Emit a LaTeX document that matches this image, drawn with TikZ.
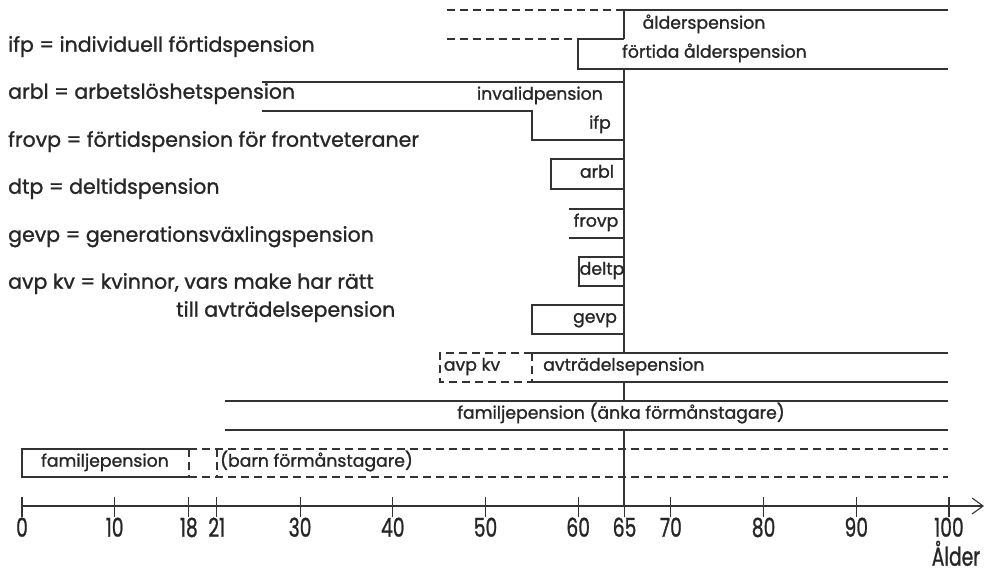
\documentclass[tikz,border=0pt]{standalone}
\usepackage{fontspec}
\usepackage{graphicx}
\setmainfont{Poppins}[FakeBold=1.2]
\usetikzlibrary{arrows.meta}
\begin{document}
\begin{tikzpicture}[x=1pt,y=-1pt,
  ln/.style={line width=1.1pt,draw=black!80},
  dl/.style={ln,dash pattern=on 8pt off 5pt},
  lbl/.style={inner sep=0pt,font=\fontsize{17.3}{20}\selectfont,text=black!85},
  leg/.style={inner sep=0pt,anchor=mid west,font=\fontsize{20.5}{24}\selectfont,text=black!85},
  num/.style={inner sep=0pt,anchor=mid,font=\fontsize{26}{28}\selectfont,text=black!85}]
\useasboundingbox (0,0) rectangle (994,576);

% ---- legend ----
\node[leg] (l1) at (8,49) {ifp = individuell förtidspension};
\node[leg] (l2) at (8,96) {arbl = arbetslöshetspension};
\node[leg] (l3) at (8,144) {frovp = förtidspension för frontveteraner};
\node[leg] (l4) at (8,191) {dtp = deltidspension};
\node[leg] (l5) at (8,239) {gevp = generationsväxlingspension};
\node[leg] (l6) at (8,286) {avp kv = kvinnor, vars make har rätt};
\node[leg] (l7) at (176,314) {till avträdelsepension};

% ---- ålderspension / förtida ----
\draw[dl] (447,10) -- (624,10);
\draw[ln] (624,10) -- (948,10);
\draw[dl] (447,39) -- (578,39);
\draw[ln] (624,39) -- (624,10);
\draw[ln] (624,39) -- (578,39) -- (578,69) -- (948,69);
\node[lbl,anchor=mid] (alder) at (704,26) {ålderspension};
\node[lbl,anchor=mid west] (fortida) at (622,55) {förtida ålderspension};

% ---- 65 line ----
\draw[ln] (624,69) -- (624,353);
\draw[ln] (624,382) -- (624,401);
\draw[ln] (624,430) -- (624,506);

% ---- invalidpension / ifp ----
\draw[ln] (262,82) -- (624,82);
\draw[ln] (262,111) -- (532,111) -- (532,140) -- (624,140);
\node[lbl,anchor=mid east] (inv) at (603,97) {invalidpension};
\node[lbl,anchor=mid] (ifp) at (600,126) {ifp};

% ---- arbl ----
\draw[ln] (624,159) -- (551,159) -- (551,189) -- (624,189);
\node[lbl,anchor=mid] (arbl) at (597,175) {arbl};

% ---- frovp ----
\draw[ln] (569,209) -- (624,209);
\draw[ln] (569,238) -- (624,238);
\node[lbl,anchor=mid] (frovp) at (596,224) {frovp};

% ---- deltp ----
\draw[ln] (624,257) -- (579,257) -- (579,286) -- (624,286);
\node[lbl,anchor=mid] (deltp) at (602,272) {deltp};

% ---- gevp ----
\draw[ln] (624,305) -- (532,305) -- (532,334) -- (624,334);
\node[lbl,anchor=mid] (gevp) at (595,320) {gevp};

% ---- avträdelsepension / avp kv ----
\draw[ln] (532,353) -- (948,353);
\draw[ln] (532,382) -- (948,382);
\draw[dl] (532,353) -- (440,353) -- (440,382) -- (532,382);
\draw[dl] (532,353) -- (532,382);
\node[lbl,anchor=mid] (avpkv) at (472,368) {avp kv};
\node[lbl,anchor=mid west] (avtr) at (543,368) {avträdelsepension};

% ---- familjepension änka ----
\draw[ln] (225,401) -- (948,401);
\draw[ln] (225,430) -- (948,430);
\node[lbl,anchor=mid] (anka) at (621,416) {familjepension (änka förmånstagare)};

% ---- familjepension barn ----
\draw[ln] (189,449) -- (22,449) -- (22,477) -- (189,477);
\draw[dl] (189,449) -- (948,449);
\draw[dl] (189,477) -- (948,477);
\draw[dl] (189,449) -- (189,477);
\draw[dl] (217,449) -- (217,477);
\node[lbl,anchor=mid] (famb) at (105,464) {familjepension};
\node[lbl,anchor=mid west] (barn) at (220,464) {(barn förmånstagare)};

% ---- axis ----
\coordinate (a0) at (22,506);
\coordinate (aend) at (984,506);
\draw[ln,-{Straight Barb[length=11pt,width=16pt,line width=1.1pt]}] (a0) -- (aend);
\foreach \a in {0,10,18,21,30,40,50,60,65,70,80,90,100}{
  \pgfmathsetmacro\xx{22+9.27*\a}
  \draw[ln] (\xx,497) -- (\xx,517);
  \node[num] (t\a) at (\xx,534) {\scalebox{0.72}[1]{\a}};
}
\node[num] (alderlbl) at (956,563) {\scalebox{0.72}[1]{Ålder}};
\end{tikzpicture}
\end{document}
